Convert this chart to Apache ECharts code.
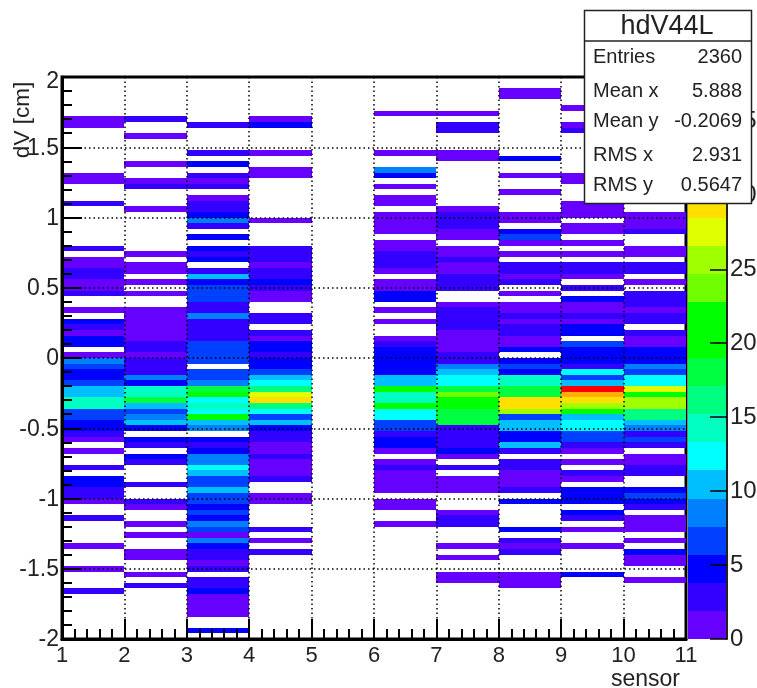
<!DOCTYPE html>
<html>
<head>
<meta charset="utf-8">
<style>
html,body{margin:0;padding:0;background:#fff;}
#c{width:757px;height:688px;filter:blur(0.5px);}
</style>
<script src="https://cdn.jsdelivr.net/npm/echarts@6/dist/echarts.min.js"></script>
</head>
<body>
<div id="c"></div>
<script>
// Bin counts per sensor column, listed from the top bin (dV 1.96..2.00) down to the bottom bin.
var sensor1 = [0,0,0,0,0,0,0,1,1,0, 0,0,0,0,0,0,0,1,1,0, 0,0,3,0,0,0,0,0,0,0, 3,0,1,1,3,3,1,1,3,0, 0,1,0,5,3,1,5,5,0,1, 8,7,5,5,6,10,10,15,15,6, 7,5,5,3,1,0,1,0,0,3, 0,5,5,3,3,1,0,0,3,0, 0,0,0,1,0,0,0,1,0,0, 0,3,0,0,0,0,0,0,0,0];
var sensor2 = [0,0,0,0,0,0,0,3,0,0, 1,0,0,0,0,1,0,0,1,3, 0,0,0,1,0,0,0,0,0,0, 0,1,0,1,1,0,1,0,1,0, 0,1,1,1,1,1,1,3,3,1, 3,3,3,8,5,14,14,18,10,6, 8,10,5,0,5,3,0,5,3,0, 0,0,3,0,0,3,1,0,0,1, 0,1,0,0,1,1,0,0,1,0, 3,0,0,0,0,0,0,0,0,0];
var sensor3 = [0,0,0,0,0,0,0,0,3,0, 0,0,0,3,0,5,0,3,1,3, 0,1,3,3,5,9,3,0,5,0, 5,3,5,0,3,10,5,6,6,6, 3,3,9,3,3,3,3,7,7,7, 7,0,7,7,9,18,19,12,14,13, 22,10,8,0,4,3,5,8,8,12, 10,6,7,10,7,6,5,6,4,8, 7,1,8,5,3,3,1,3,0,3, 3,4,1,1,1,1,0,0,5,0];
var sensor4 = [0,0,0,0,0,0,0,1,4,0, 0,0,0,1,0,0,1,1,0,0, 0,0,0,0,0,1,0,0,0,0, 3,3,3,1,3,3,5,3,1,1, 0,0,3,3,0,3,1,5,5,3, 5,5,7,10,13,16,28,29,16,13, 7,10,5,3,3,1,1,3,1,1, 1,3,0,0,1,1,0,0,0,0, 3,0,1,0,3,0,0,0,0,0, 0,0,0,0,0,0,0,0,0,0];
var sensor5 = [0,0,0,0,0,0,0,0,0,0, 0,0,0,0,0,0,0,0,0,0, 0,0,0,0,0,0,0,0,0,0, 0,0,0,0,0,0,0,0,0,0, 0,0,0,0,0,0,0,0,0,0, 0,0,0,0,0,0,0,0,0,0, 0,0,0,0,0,0,0,0,0,0, 0,0,0,0,0,0,0,0,0,0, 0,0,0,0,0,0,0,0,0,0, 0,0,0,0,0,0,0,0,0,0];
var sensor6 = [0,0,0,0,0,0,1,0,0,0, 0,0,0,1,0,0,8,5,0,1, 0,1,1,0,1,1,1,1,0,1, 1,3,3,3,1,0,1,1,5,5, 0,1,0,1,0,0,1,3,5,5, 5,5,5,10,10,21,15,15,19,12, 12,7,6,3,5,5,1,0,1,3, 1,1,1,1,0,1,1,0,0,1, 0,0,0,0,0,0,0,0,0,0, 0,0,0,0,0,0,0,0,0,0];
var sensor7 = [0,0,0,0,0,0,1,0,3,3, 0,0,0,1,1,0,0,0,0,0, 0,0,0,1,3,3,3,1,1,0, 1,1,3,1,1,3,3,3,0,0, 1,3,3,3,3,1,1,1,1,3, 3,8,11,12,13,18,23,19,22,18, 18,18,3,3,3,3,5,1,0,3, 0,1,1,1,0,0,0,1,3,3, 0,0,0,1,0,1,0,0,1,1, 0,0,0,0,0,0,0,0,0,0];
var sensor8 = [0,0,1,1,0,0,0,0,0,0, 0,0,0,0,4,0,0,1,0,0, 1,0,0,0,1,1,0,5,7,1, 0,1,0,3,3,1,3,0,1,0, 1,1,3,1,3,3,1,1,5,0, 5,7,5,14,14,18,18,29,29,26, 7,10,10,5,4,10,3,0,3,3, 1,1,1,3,0,5,0,0,0,0, 5,0,3,1,3,0,0,0,1,1, 1,0,0,0,0,0,0,0,0,0];
var sensor9 = [0,0,0,0,0,1,0,0,1,3, 0,0,0,0,0,0,0,1,1,0, 0,0,1,1,1,0,1,1,0,1, 0,1,0,3,3,1,0,3,0,5, 1,1,3,1,5,5,0,7,5,5, 5,3,13,6,10,37,34,30,25,19, 11,12,12,6,6,3,1,0,1,0, 3,1,0,5,5,5,0,5,3,0, 1,0,0,1,0,0,0,0,4,0, 0,0,0,0,0,0,0,0,0,0];
var sensor10 = [0,0,0,0,0,0,0,0,0,0, 0,0,0,0,0,0,0,0,0,0, 0,0,0,0,1,1,1,3,0,0, 1,1,0,3,3,0,1,0,3,3, 3,1,3,3,0,3,1,1,5,5, 5,8,6,12,12,28,20,25,25,17, 17,11,8,3,6,3,0,1,1,3, 3,0,0,5,7,5,3,0,1,1, 1,0,1,0,5,1,1,0,0,1, 0,0,0,0,0,0,0,0,0,0];
var columns = [sensor1,sensor2,sensor3,sensor4,sensor5,sensor6,sensor7,sensor8,sensor9,sensor10];

var contourColors = ['#6600ff','#3300ff','#0000ff','#0040ff','#0080ff','#00bfff','#00ffff','#00ffc0','#00ff80','#00ff40',
                     '#00ff00','#00ff00','#70ff00','#a0ff00','#e0ff00','#ffe000','#ffc800','#ffb000','#ff9c00','#ff0000'];
var zMax = 38, binWidth = 0.04, yTop = 2;
var statsTitle = 'hdV44L';
var statsRows = [['Entries','2360',57],['Mean x','5.888',91],['Mean y','-0.2069',121],['RMS x','2.931',155],['RMS y','0.5647',185]];

function band(v){ return Math.min(contourColors.length-1, Math.floor(v/(zMax/contourColors.length))); }

var cells = [];
columns.forEach(function(col,c){
  col.forEach(function(v,i){
    if(v>0) cells.push([c+1, yTop-binWidth*i, v]);
  });
});
var scaleCells = contourColors.map(function(col,k){ return [k*zMax/contourColors.length, k]; });

var font = '"Liberation Sans", Arial, sans-serif';
var ink = '#222';
var chart = echarts.init(document.getElementById('c'),null,{renderer:'canvas'});
var stats = [
  {type:'rect',z:100,shape:{x:584.5,y:10.5,width:167,height:193},style:{fill:'#fff',stroke:'#222',lineWidth:1.5}},
  {type:'line',z:101,shape:{x1:584.5,y1:41,x2:751.5,y2:41},style:{stroke:'#222',lineWidth:1.5}},
  {type:'text',z:101,x:667,y:27,style:{text:statsTitle,font:'27px '+font,fill:ink,textAlign:'center',textVerticalAlign:'middle'}}
];
statsRows.forEach(function(r){
  stats.push({type:'text',z:101,x:593,y:r[2],style:{text:r[0],font:'20px '+font,fill:ink,textAlign:'left',textVerticalAlign:'middle'}});
  stats.push({type:'text',z:101,x:742,y:r[2],style:{text:r[1],font:'20px '+font,fill:ink,textAlign:'right',textVerticalAlign:'middle'}});
});

function cellRect(a,b){
  var x0=Math.round(a[0]),y0=Math.round(a[1]),x1=Math.round(b[0]),y1=Math.round(b[1]);
  return {x:x0,y:y0,width:x1-x0,height:y1-y0};
}

chart.setOption({
  animation:false,
  backgroundColor:'#fff',
  grid:[
    {left:62,right:71,top:77,bottom:49,show:true,borderColor:'#000',borderWidth:3,backgroundColor:'transparent',outerBoundsMode:'none'},
    {left:688,right:30,top:77,bottom:49,outerBoundsMode:'none'}
  ],
  xAxis:[
    {type:'value',gridIndex:0,min:1,max:11,interval:1,z:10,
     name:'sensor',nameLocation:'end',nameGap:-6,nameMoveOverlap:false,
     nameTextStyle:{fontFamily:font,fontSize:23,color:ink,align:'right',verticalAlign:'top',padding:[29,0,0,0]},
     axisLine:{show:true,onZero:false,lineStyle:{color:'#000',width:3}},
     axisTick:{show:true,inside:true,length:20,lineStyle:{color:'#000',width:2}},
     minorTick:{show:true,splitNumber:5,length:10,lineStyle:{color:'#000',width:2}},
     axisLabel:{show:true,fontFamily:font,fontSize:22,color:ink,margin:6,hideOverlap:false,showMinLabel:true,showMaxLabel:true},
     splitLine:{show:true,showMinLine:false,showMaxLine:false,lineStyle:{color:'#000',width:1.5,type:[1.5,3]}}},
    {type:'value',gridIndex:1,min:0,max:1,show:false}
  ],
  yAxis:[
    {type:'value',gridIndex:0,min:-2,max:2,interval:0.5,z:10,
     name:'dV [cm]',nameLocation:'end',nameRotate:90,nameGap:-43,nameMoveOverlap:false,
     nameTextStyle:{fontFamily:font,fontSize:22.5,color:ink,align:'center',verticalAlign:'bottom',padding:[0,0,28,0]},
     axisLine:{show:true,onZero:false,lineStyle:{color:'#000',width:3}},
     axisTick:{show:true,inside:true,length:20,lineStyle:{color:'#000',width:2}},
     minorTick:{show:true,splitNumber:5,length:10,lineStyle:{color:'#000',width:2}},
     axisLabel:{show:true,fontFamily:font,fontSize:23,color:ink,margin:3,hideOverlap:false,showMinLabel:true,showMaxLabel:true,
       formatter:function(v){ return v===2 ? '{top|2}' : '{std|'+v+'}'; },
       rich:{top:{fontFamily:font,fontSize:23,color:ink,padding:[10,0,0,0]},std:{fontFamily:font,fontSize:23,color:ink,padding:[2,0,0,0]}}},
     splitLine:{show:true,showMinLine:false,showMaxLine:false,lineStyle:{color:'#000',width:1.5,type:[1.5,3]}}},
    {type:'value',gridIndex:1,position:'right',min:0,max:zMax,interval:5,z:10,
     axisLine:{show:true,onZero:false,lineStyle:{color:'#222',width:2}},
     axisTick:{show:true,inside:true,length:17,lineStyle:{color:'#000',width:1.5}},
     axisLabel:{show:true,fontFamily:font,fontSize:24,color:ink,margin:3,showMinLabel:true,showMaxLabel:false,hideOverlap:false,padding:[2,0,0,0]},
     splitLine:{show:false}}
  ],
  series:[
    {type:'custom',xAxisIndex:0,yAxisIndex:0,coordinateSystem:'cartesian2d',clip:true,z:2,silent:true,data:cells,
     renderItem:function(params,api){
       var a=api.coord([api.value(0),api.value(1)]);
       var b=api.coord([api.value(0)+1,api.value(1)-binWidth]);
       return {type:'rect',shape:cellRect(a,b),style:{fill:contourColors[band(api.value(2)+1e-9)]}};
     }},
    {type:'custom',xAxisIndex:1,yAxisIndex:1,coordinateSystem:'cartesian2d',clip:true,z:2,silent:true,data:scaleCells,
     renderItem:function(params,api){
       var a=api.coord([0,api.value(0)+zMax/contourColors.length]);
       var b=api.coord([1,api.value(0)]);
       return {type:'rect',shape:cellRect(a,b),style:{fill:contourColors[api.value(1)]}};
     }}
  ],
  graphic:stats
});
</script>
</body>
</html>
